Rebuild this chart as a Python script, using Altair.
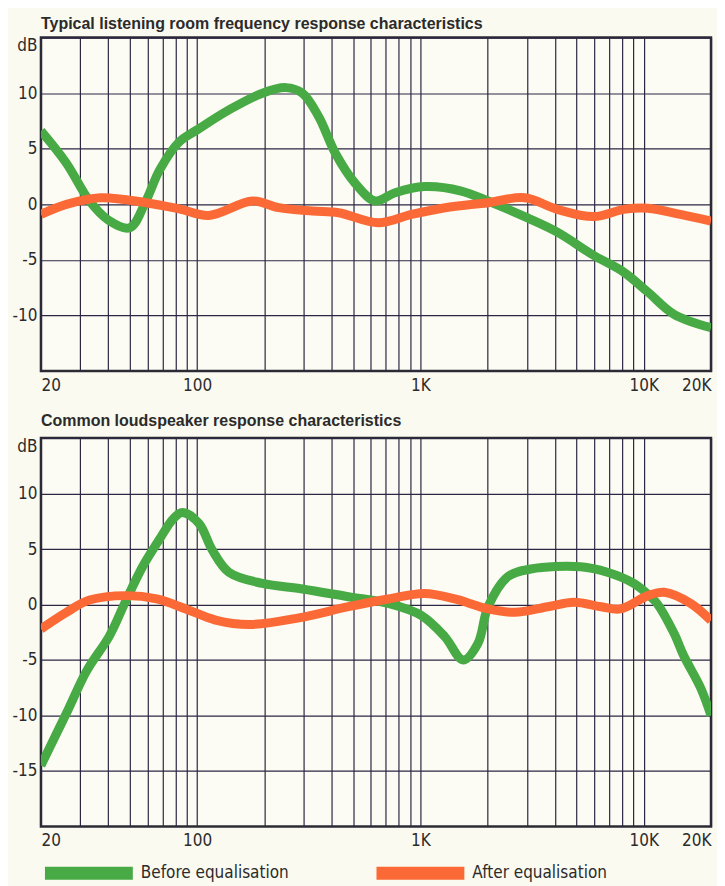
import altair as alt
import pandas as pd

GREEN = "#47aa45"
ORANGE = "#fb6a36"
BEFORE = "Before equalisation"
AFTER = "After equalisation"
COND = "'DejaVu Sans Condensed', 'DejaVu Sans', sans-serif"

# ---- Panel 1: Typical listening room frequency response ----
room_before_freq = [20, 26, 33, 40, 50, 59, 68, 83, 100, 139, 196, 250, 296, 350, 416,
                    510, 628, 770, 1046, 1524, 2008, 3000, 4100, 5980, 8140, 10440, 13660, 20000]
room_before_db = [6.6, 3.7, 0.3, -1.4, -2.1, 0.3, 3.1, 5.6, 6.7, 8.5, 10.0, 10.5, 10.0, 7.9, 4.6,
                  1.9, 0.3, 1.05, 1.6, 1.2, 0.3, -1.2, -2.5, -4.6, -6.1, -7.9, -9.9, -11.1]
room_after_freq = [20, 26, 37, 59, 83, 113, 177, 232, 328, 430, 648, 914, 1290, 2008, 2930,
                   4100, 5980, 8140, 10440, 14560, 20000]
room_after_db = [-0.9, 0.0, 0.6, 0.15, -0.4, -1.0, 0.3, -0.3, -0.6, -0.75, -1.65, -0.9, -0.3, 0.15, 0.6,
                 -0.45, -1.1, -0.45, -0.35, -0.9, -1.5]

# ---- Panel 2: Common loudspeaker response ----
spk_before_freq = [20, 26, 32, 40.6, 47.4, 57, 68, 78, 86, 102, 117, 139, 196, 296, 476, 718,
                   1012, 1286, 1554, 1810, 2008, 2460, 3120, 5220, 6870, 9020, 10720, 11500, 13660,
                   15080, 17960, 20000]
spk_before_db = [-14.5, -9.8, -6.0, -2.8, 0.1, 3.4, 5.9, 7.7, 8.3, 7.3, 4.9, 2.9, 1.9, 1.4, 0.7, 0.1,
                 -1.0, -2.9, -5.0, -3.5, -0.2, 2.5, 3.2, 3.4, 2.9, 1.9, 0.7, 0.06, -2.6,
                 -4.6, -7.5, -10.0]
spk_after_freq = [20, 26, 33, 48, 66, 89, 121, 171, 286, 476, 718, 1046, 1426, 2008, 2646, 3720,
                  4880, 6440, 7860, 10440, 12360, 16200, 20000]
spk_after_db = [-2.2, -0.7, 0.4, 0.8, 0.5, -0.4, -1.4, -1.8, -1.2, -0.2, 0.5, 1.0, 0.5, -0.4, -0.7, -0.2,
                0.2, -0.2, -0.4, 0.8, 1.1, 0.1, -1.45]

x_grid = [20, 30, 40, 50, 60, 70, 80, 90, 100, 200, 300, 400, 500, 600, 700, 800, 900,
          1000, 2000, 3000, 4000, 5000, 6000, 7000, 8000, 9000, 10000, 20000]
x_label_expr = ("datum.value == 20 ? '20' : datum.value == 100 ? '100' : datum.value == 1000 ? '1K' : "
                "datum.value == 10000 ? '10K' : datum.value == 20000 ? '20K' : ''")

PLOT_W = 671


def panel(title, bf, bdb, af, adb, ydomain, yvalues, height, legend, title_offset):
    df_b = pd.DataFrame({"freq": bf, "db": bdb, "series": BEFORE})
    df_a = pd.DataFrame({"freq": af, "db": adb, "series": AFTER})
    x = alt.X("freq:Q",
              scale=alt.Scale(type="log", domain=[20, 20000], nice=False),
              axis=alt.Axis(values=x_grid, labelExpr=x_label_expr, title=None,
                            labelFlush=True, labelPadding=6))
    y = alt.Y("db:Q",
              scale=alt.Scale(domain=ydomain, nice=False, zero=False),
              axis=alt.Axis(values=yvalues, title=None, labelFlush=True, labelPadding=4,
                            labelExpr="datum.value == 15 ? 'dB' : '' + datum.value"))
    color = alt.Color("series:N",
                      scale=alt.Scale(domain=[BEFORE, AFTER], range=[GREEN, ORANGE]),
                      legend=legend)
    line_b = alt.Chart(df_b).mark_line(strokeWidth=9, interpolate="catmull-rom", clip=True).encode(
        x=x, y=y, color=color)
    line_a = alt.Chart(df_a).mark_line(strokeWidth=9, interpolate="catmull-rom", clip=True).encode(
        x=x, y=y, color=color)
    return alt.layer(line_b, line_a).properties(
        width=PLOT_W, height=height,
        title=alt.TitleParams(title, anchor="start", frame="group", offset=title_offset))


top = panel("Typical listening room frequency response characteristics",
            room_before_freq, room_before_db, room_after_freq, room_after_db,
            [-15, 15], [15, 10, 5, 0, -5, -10], 334, None, 5)

legend = alt.Legend(title=None, orient="none", legendX=-2.5, legendY=385, direction="horizontal",
                    symbolType="stroke", symbolSize=7744, symbolStrokeWidth=13,
                    labelFont=COND, labelFontSize=17, labelOffset=1.5, columnPadding=61,
                    labelColor="#2b2b2b", padding=0, labelLimit=300)

bottom = panel("Common loudspeaker response characteristics",
               spk_before_freq, spk_before_db, spk_after_freq, spk_after_db,
               [-20, 15], [15, 10, 5, 0, -5, -10, -15], 389, legend, 8)

chart = alt.vconcat(top, bottom, spacing=16).resolve_scale(color="independent").properties(
    padding={"left": 2, "right": 4, "top": 5, "bottom": 2},
    background="#fbfaf0",
).configure_view(
    stroke="#2b2b35", strokeWidth=2.5, fill="#fdfcf4"
).configure_axis(
    grid=True, gridColor="#2e2744", gridWidth=1.2, gridOpacity=1,
    domain=False, ticks=False,
    labelFont=COND, labelFontSize=17, labelColor="#2b2b2b",
).configure_title(
    font="Liberation Sans", fontSize=16, fontWeight="bold", color="#2b2b2b",
)

chart.save("out.html", embed_options={"renderer": "svg", "actions": False})
